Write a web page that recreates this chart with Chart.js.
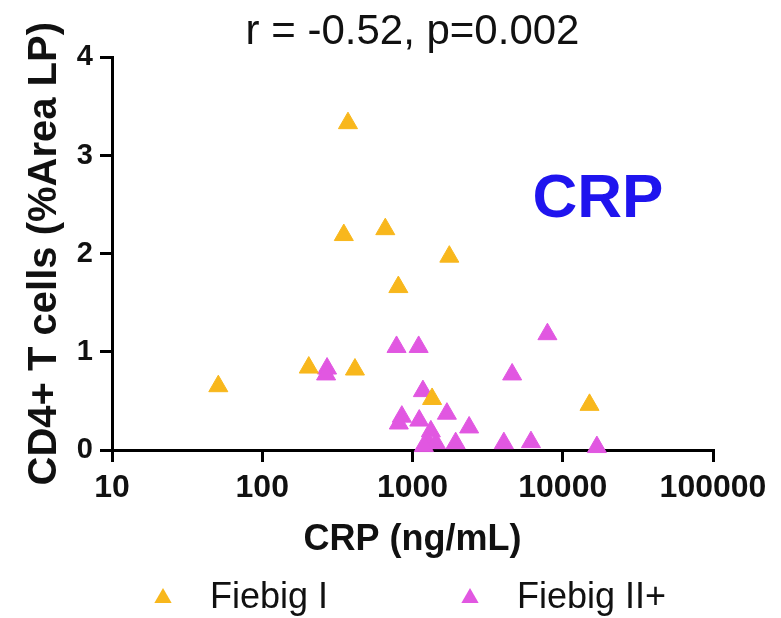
<!DOCTYPE html>
<html>
<head>
<meta charset="utf-8">
<script src="https://cdn.jsdelivr.net/npm/chart.js@4.4.1/dist/chart.umd.min.js"></script>
<style>
  body { margin: 0; background: #fff; }
  #wrap { width: 781px; height: 618px; }
</style>
</head>
<body>
<div id="wrap"><canvas id="myChart"></canvas></div>
<script>
// values (CRP in ng/mL, CD4+ in %Area LP)
const fiebigICrp = [372, 349, 659, 1758, 805, 51, 204, 414, 1350, 15070];
const fiebigICd4 = [3.33, 2.19, 2.25, 1.97, 1.66, 0.65, 0.84, 0.82, 0.52, 0.46];

const fiebigIICrp = [783, 1099, 7907, 270, 266, 4604, 1173, 849, 811, 1109,
                     1694, 2382, 1325, 1265, 1432, 1190, 1937, 4056, 6143, 16870];
const fiebigIICd4 = [1.05, 1.05, 1.18, 0.83, 0.77, 0.77, 0.60, 0.34, 0.27, 0.30,
                     0.37, 0.23, 0.19, 0.08, 0.07, 0.04, 0.07, 0.07, 0.08, 0.03];

const xTicks = [10, 100, 1000, 10000, 100000];
const yTicks = [0, 1, 2, 3, 4];

const FONT = '"Liberation Sans", Arial, sans-serif';
const yellow = '#F8B71C';
const magenta = '#E157E1';

const toPoints = (xs, ys) => xs.map((x, i) => ({ x: x, y: ys[i] }));

// legend and the big "CRP" label, drawn by hand to sit where the original has them
const extras = {
  id: 'extras',
  afterDraw(chart) {
    const ctx = chart.ctx;
    ctx.save();
    ctx.fillStyle = '#1F14EE';
    ctx.font = 'bold 62px ' + FONT;
    ctx.textAlign = 'center';
    ctx.textBaseline = 'middle';
    ctx.fillText('CRP', 598, 200);

    const legendX = [163, 470];
    const legendY = 598;
    chart.data.datasets.forEach((ds, i) => {
      const cx = legendX[i];
      const r = 10;
      ctx.fillStyle = ds.backgroundColor;
      ctx.beginPath();
      ctx.moveTo(cx, legendY - r);
      ctx.lineTo(cx + r * 0.866, legendY + r * 0.5);
      ctx.lineTo(cx - r * 0.866, legendY + r * 0.5);
      ctx.closePath();
      ctx.fill();
      ctx.fillStyle = '#111';
      ctx.font = '36px ' + FONT;
      ctx.textAlign = 'left';
      ctx.fillText(ds.label, cx + 47, legendY);
    });
    ctx.restore();
  }
};

const ctx = document.getElementById('myChart').getContext('2d');
const myChart = new Chart(ctx, {
  type: 'scatter',
  data: {
    datasets: [{
      label: 'Fiebig I',
      data: toPoints(fiebigICrp, fiebigICd4),
      backgroundColor: yellow,
      borderColor: yellow,
      borderWidth: 1,
      pointStyle: 'triangle',
      pointRadius: 11,
      clip: false
    }, {
      label: 'Fiebig II+',
      data: toPoints(fiebigIICrp, fiebigIICd4),
      backgroundColor: magenta,
      borderColor: magenta,
      borderWidth: 1,
      pointStyle: 'triangle',
      pointRadius: 11,
      clip: false
    }]
  },
  options: {
    responsive: true,
    maintainAspectRatio: false,
    animation: false,
    layout: { padding: { left: 21, right: 68, top: 0, bottom: 56 } },
    plugins: {
      legend: { display: false },
      tooltip: { enabled: false },
      title: {
        display: true,
        fullSize: false,
        text: 'r = -0.52, p=0.002',
        color: '#111',
        font: { family: FONT, size: 42, weight: 'normal' },
        padding: { top: 7, bottom: 0 }
      }
    },
    scales: {
      x: {
        type: 'logarithmic',
        min: 10,
        max: 100000,
        afterBuildTicks: (scale) => { scale.ticks = xTicks.map(v => ({ value: v })); },
        afterFit: (scale) => { scale.height = 112; },
        ticks: {
          color: '#111',
          font: { family: FONT, size: 32, weight: 'bold' },
          padding: 7,
          maxRotation: 0,
          autoSkip: false,
          callback: (value) => String(value)
        },
        grid: { drawOnChartArea: false, color: '#000', lineWidth: 3, tickLength: 12 },
        border: { color: '#000', width: 3 },
        title: {
          display: true,
          text: 'CRP (ng/mL)',
          color: '#111',
          font: { family: FONT, size: 36, weight: 'bold' },
          padding: { top: 5, bottom: 0 }
        }
      },
      y: {
        min: 0,
        max: 4,
        afterBuildTicks: (scale) => { scale.ticks = yTicks.map(v => ({ value: v })); },
        afterFit: (scale) => { scale.width = 91; },
        ticks: {
          color: '#111',
          font: { family: FONT, size: 29, weight: 'bold' },
          padding: 7
        },
        grid: { drawOnChartArea: false, color: '#000', lineWidth: 3, tickLength: 12 },
        border: { color: '#000', width: 3 },
        title: {
          display: true,
          text: 'CD4+ T cells (%Area LP)',
          color: '#111',
          font: { family: FONT, size: 40, weight: 'bold' },
          padding: { top: 0, bottom: 0 }
        }
      }
    }
  },
  plugins: [extras]
});
</script>
</body>
</html>
